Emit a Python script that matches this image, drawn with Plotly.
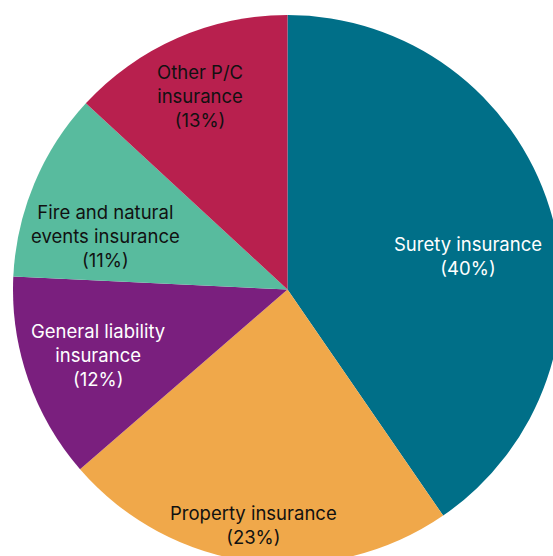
import plotly.graph_objects as go

labels = ["Surety insurance", "Property insurance", "General liability<br>insurance",
          "Fire and natural<br>events insurance", "Other P/C<br>insurance"]
values = [40, 23, 12, 11, 13]
colors = ["#006F88", "#F0A84A", "#7A1F7E", "#58BB9E", "#B8204E"]
text_colors = ["#FFFFFF", "#111111", "#FFFFFF", "#111111", "#111111"]

W, H = 562, 564
L, T = 13, 15
PW, PH = W - L, H - T

# label anchor positions (pixel centres inside the window)
label_px = [(468, 256), (253, 525), (98, 355), (105, 236), (200, 96)]

fig = go.Figure(go.Pie(
    labels=labels,
    values=values,
    sort=False,
    direction="clockwise",
    rotation=0,
    marker=dict(colors=colors, line=dict(width=0)),
    textinfo="none",
    hoverinfo="skip",
    showlegend=False,
))

for lab, val, col, (px, py) in zip(labels, values, text_colors, label_px):
    fig.add_annotation(
        x=(px - L) / PW, y=1 - (py - T) / PH,
        xref="paper", yref="paper",
        xanchor="center", yanchor="middle",
        text=f"{lab}<br>({val}%)",
        showarrow=False,
        align="center",
        font=dict(family="Inter", size=18.5, color=col),
    )

fig.update_layout(
    width=W, height=H,
    margin=dict(l=L, r=0, t=T, b=0),
    paper_bgcolor="white",
    plot_bgcolor="white",
)

fig.write_html("out.html")
